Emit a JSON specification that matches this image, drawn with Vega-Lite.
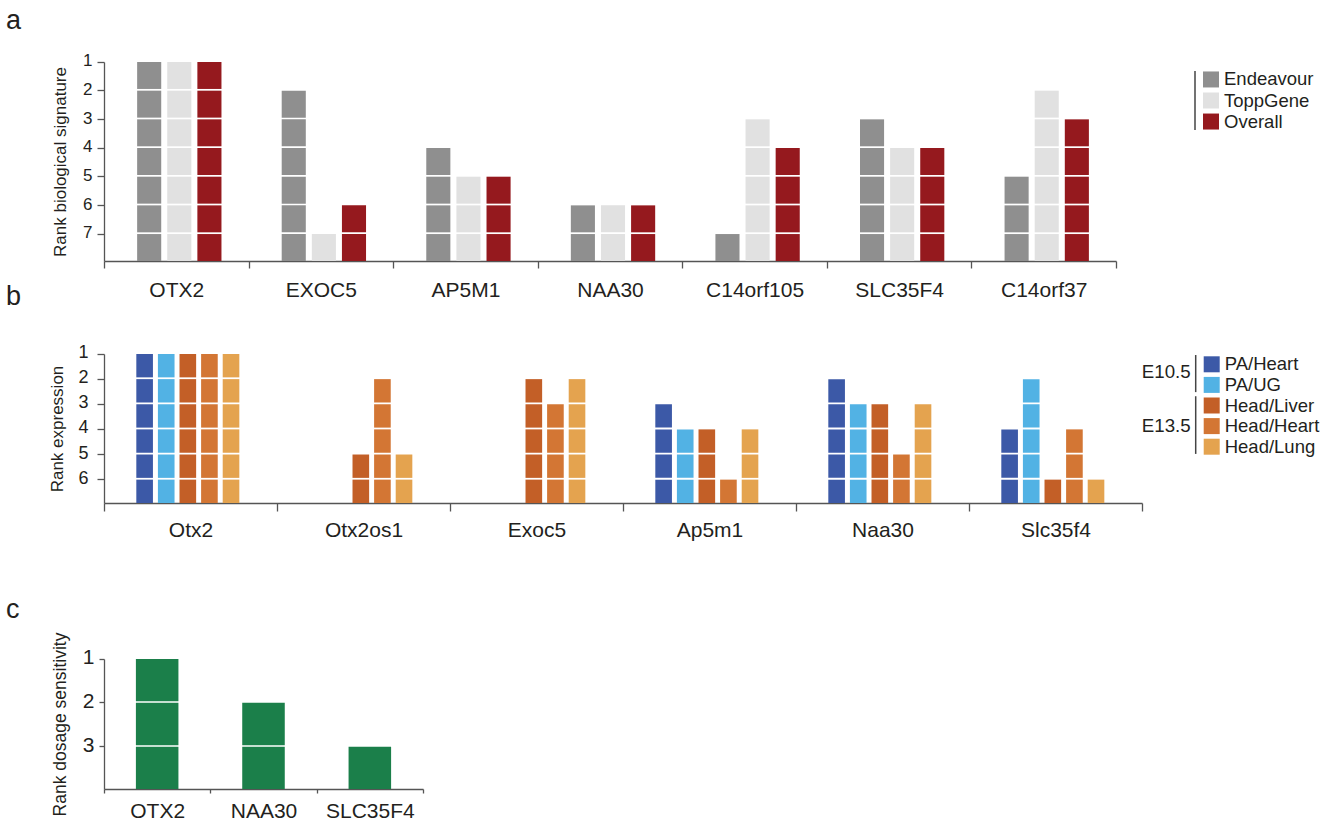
{
  "$schema": "https://vega.github.io/schema/vega-lite/v6.json",
  "padding": {"left": 6, "top": 6, "right": 2, "bottom": 2},
  "config": {
    "view": {"stroke": null},
    "font": "Liberation Sans",
    "axis": {"domainColor": "#555555", "tickColor": "#555555", "labelColor": "#231f20", "titleColor": "#231f20", "domainWidth": 1.3, "tickWidth": 1.3, "grid": false, "titleFontWeight": "normal"},
    "title": {"anchor": "start", "frame": "group", "fontSize": 27, "fontWeight": "normal", "color": "#231f20", "dx": -98, "baseline": "alphabetic"}
  },
  "datasets": {
    "a": [
      {"g":"OTX2","s":"Endeavour","r":1},{"g":"OTX2","s":"Endeavour","r":2},{"g":"OTX2","s":"Endeavour","r":3},{"g":"OTX2","s":"Endeavour","r":4},{"g":"OTX2","s":"Endeavour","r":5},{"g":"OTX2","s":"Endeavour","r":6},{"g":"OTX2","s":"Endeavour","r":7},
      {"g":"OTX2","s":"ToppGene","r":1},{"g":"OTX2","s":"ToppGene","r":2},{"g":"OTX2","s":"ToppGene","r":3},{"g":"OTX2","s":"ToppGene","r":4},{"g":"OTX2","s":"ToppGene","r":5},{"g":"OTX2","s":"ToppGene","r":6},{"g":"OTX2","s":"ToppGene","r":7},
      {"g":"OTX2","s":"Overall","r":1},{"g":"OTX2","s":"Overall","r":2},{"g":"OTX2","s":"Overall","r":3},{"g":"OTX2","s":"Overall","r":4},{"g":"OTX2","s":"Overall","r":5},{"g":"OTX2","s":"Overall","r":6},{"g":"OTX2","s":"Overall","r":7},
      {"g":"EXOC5","s":"Endeavour","r":2},{"g":"EXOC5","s":"Endeavour","r":3},{"g":"EXOC5","s":"Endeavour","r":4},{"g":"EXOC5","s":"Endeavour","r":5},{"g":"EXOC5","s":"Endeavour","r":6},{"g":"EXOC5","s":"Endeavour","r":7},
      {"g":"EXOC5","s":"ToppGene","r":7},
      {"g":"EXOC5","s":"Overall","r":6},{"g":"EXOC5","s":"Overall","r":7},
      {"g":"AP5M1","s":"Endeavour","r":4},{"g":"AP5M1","s":"Endeavour","r":5},{"g":"AP5M1","s":"Endeavour","r":6},{"g":"AP5M1","s":"Endeavour","r":7},
      {"g":"AP5M1","s":"ToppGene","r":5},{"g":"AP5M1","s":"ToppGene","r":6},{"g":"AP5M1","s":"ToppGene","r":7},
      {"g":"AP5M1","s":"Overall","r":5},{"g":"AP5M1","s":"Overall","r":6},{"g":"AP5M1","s":"Overall","r":7},
      {"g":"NAA30","s":"Endeavour","r":6},{"g":"NAA30","s":"Endeavour","r":7},
      {"g":"NAA30","s":"ToppGene","r":6},{"g":"NAA30","s":"ToppGene","r":7},
      {"g":"NAA30","s":"Overall","r":6},{"g":"NAA30","s":"Overall","r":7},
      {"g":"C14orf105","s":"Endeavour","r":7},
      {"g":"C14orf105","s":"ToppGene","r":3},{"g":"C14orf105","s":"ToppGene","r":4},{"g":"C14orf105","s":"ToppGene","r":5},{"g":"C14orf105","s":"ToppGene","r":6},{"g":"C14orf105","s":"ToppGene","r":7},
      {"g":"C14orf105","s":"Overall","r":4},{"g":"C14orf105","s":"Overall","r":5},{"g":"C14orf105","s":"Overall","r":6},{"g":"C14orf105","s":"Overall","r":7},
      {"g":"SLC35F4","s":"Endeavour","r":3},{"g":"SLC35F4","s":"Endeavour","r":4},{"g":"SLC35F4","s":"Endeavour","r":5},{"g":"SLC35F4","s":"Endeavour","r":6},{"g":"SLC35F4","s":"Endeavour","r":7},
      {"g":"SLC35F4","s":"ToppGene","r":4},{"g":"SLC35F4","s":"ToppGene","r":5},{"g":"SLC35F4","s":"ToppGene","r":6},{"g":"SLC35F4","s":"ToppGene","r":7},
      {"g":"SLC35F4","s":"Overall","r":4},{"g":"SLC35F4","s":"Overall","r":5},{"g":"SLC35F4","s":"Overall","r":6},{"g":"SLC35F4","s":"Overall","r":7},
      {"g":"C14orf37","s":"Endeavour","r":5},{"g":"C14orf37","s":"Endeavour","r":6},{"g":"C14orf37","s":"Endeavour","r":7},
      {"g":"C14orf37","s":"ToppGene","r":2},{"g":"C14orf37","s":"ToppGene","r":3},{"g":"C14orf37","s":"ToppGene","r":4},{"g":"C14orf37","s":"ToppGene","r":5},{"g":"C14orf37","s":"ToppGene","r":6},{"g":"C14orf37","s":"ToppGene","r":7},
      {"g":"C14orf37","s":"Overall","r":3},{"g":"C14orf37","s":"Overall","r":4},{"g":"C14orf37","s":"Overall","r":5},{"g":"C14orf37","s":"Overall","r":6},{"g":"C14orf37","s":"Overall","r":7}
    ],
    "b": [
      {"g":"Otx2","s":"PA/Heart","r":1},{"g":"Otx2","s":"PA/Heart","r":2},{"g":"Otx2","s":"PA/Heart","r":3},{"g":"Otx2","s":"PA/Heart","r":4},{"g":"Otx2","s":"PA/Heart","r":5},{"g":"Otx2","s":"PA/Heart","r":6},
      {"g":"Otx2","s":"PA/UG","r":1},{"g":"Otx2","s":"PA/UG","r":2},{"g":"Otx2","s":"PA/UG","r":3},{"g":"Otx2","s":"PA/UG","r":4},{"g":"Otx2","s":"PA/UG","r":5},{"g":"Otx2","s":"PA/UG","r":6},
      {"g":"Otx2","s":"Head/Liver","r":1},{"g":"Otx2","s":"Head/Liver","r":2},{"g":"Otx2","s":"Head/Liver","r":3},{"g":"Otx2","s":"Head/Liver","r":4},{"g":"Otx2","s":"Head/Liver","r":5},{"g":"Otx2","s":"Head/Liver","r":6},
      {"g":"Otx2","s":"Head/Heart","r":1},{"g":"Otx2","s":"Head/Heart","r":2},{"g":"Otx2","s":"Head/Heart","r":3},{"g":"Otx2","s":"Head/Heart","r":4},{"g":"Otx2","s":"Head/Heart","r":5},{"g":"Otx2","s":"Head/Heart","r":6},
      {"g":"Otx2","s":"Head/Lung","r":1},{"g":"Otx2","s":"Head/Lung","r":2},{"g":"Otx2","s":"Head/Lung","r":3},{"g":"Otx2","s":"Head/Lung","r":4},{"g":"Otx2","s":"Head/Lung","r":5},{"g":"Otx2","s":"Head/Lung","r":6},
      {"g":"Otx2os1","s":"Head/Liver","r":5},{"g":"Otx2os1","s":"Head/Liver","r":6},
      {"g":"Otx2os1","s":"Head/Heart","r":2},{"g":"Otx2os1","s":"Head/Heart","r":3},{"g":"Otx2os1","s":"Head/Heart","r":4},{"g":"Otx2os1","s":"Head/Heart","r":5},{"g":"Otx2os1","s":"Head/Heart","r":6},
      {"g":"Otx2os1","s":"Head/Lung","r":5},{"g":"Otx2os1","s":"Head/Lung","r":6},
      {"g":"Exoc5","s":"Head/Liver","r":2},{"g":"Exoc5","s":"Head/Liver","r":3},{"g":"Exoc5","s":"Head/Liver","r":4},{"g":"Exoc5","s":"Head/Liver","r":5},{"g":"Exoc5","s":"Head/Liver","r":6},
      {"g":"Exoc5","s":"Head/Heart","r":3},{"g":"Exoc5","s":"Head/Heart","r":4},{"g":"Exoc5","s":"Head/Heart","r":5},{"g":"Exoc5","s":"Head/Heart","r":6},
      {"g":"Exoc5","s":"Head/Lung","r":2},{"g":"Exoc5","s":"Head/Lung","r":3},{"g":"Exoc5","s":"Head/Lung","r":4},{"g":"Exoc5","s":"Head/Lung","r":5},{"g":"Exoc5","s":"Head/Lung","r":6},
      {"g":"Ap5m1","s":"PA/Heart","r":3},{"g":"Ap5m1","s":"PA/Heart","r":4},{"g":"Ap5m1","s":"PA/Heart","r":5},{"g":"Ap5m1","s":"PA/Heart","r":6},
      {"g":"Ap5m1","s":"PA/UG","r":4},{"g":"Ap5m1","s":"PA/UG","r":5},{"g":"Ap5m1","s":"PA/UG","r":6},
      {"g":"Ap5m1","s":"Head/Liver","r":4},{"g":"Ap5m1","s":"Head/Liver","r":5},{"g":"Ap5m1","s":"Head/Liver","r":6},
      {"g":"Ap5m1","s":"Head/Heart","r":6},
      {"g":"Ap5m1","s":"Head/Lung","r":4},{"g":"Ap5m1","s":"Head/Lung","r":5},{"g":"Ap5m1","s":"Head/Lung","r":6},
      {"g":"Naa30","s":"PA/Heart","r":2},{"g":"Naa30","s":"PA/Heart","r":3},{"g":"Naa30","s":"PA/Heart","r":4},{"g":"Naa30","s":"PA/Heart","r":5},{"g":"Naa30","s":"PA/Heart","r":6},
      {"g":"Naa30","s":"PA/UG","r":3},{"g":"Naa30","s":"PA/UG","r":4},{"g":"Naa30","s":"PA/UG","r":5},{"g":"Naa30","s":"PA/UG","r":6},
      {"g":"Naa30","s":"Head/Liver","r":3},{"g":"Naa30","s":"Head/Liver","r":4},{"g":"Naa30","s":"Head/Liver","r":5},{"g":"Naa30","s":"Head/Liver","r":6},
      {"g":"Naa30","s":"Head/Heart","r":5},{"g":"Naa30","s":"Head/Heart","r":6},
      {"g":"Naa30","s":"Head/Lung","r":3},{"g":"Naa30","s":"Head/Lung","r":4},{"g":"Naa30","s":"Head/Lung","r":5},{"g":"Naa30","s":"Head/Lung","r":6},
      {"g":"Slc35f4","s":"PA/Heart","r":4},{"g":"Slc35f4","s":"PA/Heart","r":5},{"g":"Slc35f4","s":"PA/Heart","r":6},
      {"g":"Slc35f4","s":"PA/UG","r":2},{"g":"Slc35f4","s":"PA/UG","r":3},{"g":"Slc35f4","s":"PA/UG","r":4},{"g":"Slc35f4","s":"PA/UG","r":5},{"g":"Slc35f4","s":"PA/UG","r":6},
      {"g":"Slc35f4","s":"Head/Liver","r":6},
      {"g":"Slc35f4","s":"Head/Heart","r":4},{"g":"Slc35f4","s":"Head/Heart","r":5},{"g":"Slc35f4","s":"Head/Heart","r":6},
      {"g":"Slc35f4","s":"Head/Lung","r":6}
    ],
    "c": [
      {"g":"OTX2","r":1},{"g":"OTX2","r":2},{"g":"OTX2","r":3},
      {"g":"NAA30","r":2},{"g":"NAA30","r":3},
      {"g":"SLC35F4","r":3}
    ]
  },
  "bounds": "flush",
  "spacing": 597,
  "resolve": {"scale": {"color": "independent", "xOffset": "independent"}},
  "vconcat": [
    {
      "bounds": "flush",
      "spacing": 292,
      "resolve": {"scale": {"color": "independent", "xOffset": "independent"}},
      "vconcat": [
        {
          "title": {"text": "a", "offset": 17},
          "bounds": "flush",
          "spacing": 78.5,
          "hconcat": [
            {
              "width": 1012,
              "height": 199,
              "data": {"name": "a"},
              "mark": {"type": "bar"},
              "encoding": {
                "x": {"field": "g", "type": "nominal",
                      "scale": {"domain": ["OTX2","EXOC5","AP5M1","NAA30","C14orf105","SLC35F4","C14orf37"], "paddingInner": 0, "paddingOuter": 0},
                      "axis": {"title": null, "tickBand": "extent", "labelAngle": 0, "labelFontSize": 21, "tickSize": 7, "labelPadding": 11}},
                "xOffset": {"field": "s", "type": "nominal",
                            "scale": {"domain": ["Endeavour","ToppGene","Overall"], "paddingInner": 0.2, "paddingOuter": 1, "align": 0.55}},
                "y": {"field": "r", "type": "ordinal",
                      "scale": {"domain": [1,2,3,4,5,6,7], "paddingInner": 0.06, "paddingOuter": 0},
                      "axis": {"title": "Rank biological signature", "bandPosition": 0, "labelOffset": -14.3, "tickSize": 7, "labelPadding": 5, "labelFontSize": 17, "titleFontSize": 17, "titlePadding": 13}},
                "color": {"field": "s", "type": "nominal",
                          "scale": {"domain": ["Endeavour","ToppGene","Overall"], "range": ["#8f8f8f","#e1e1e1","#95191e"]},
                          "legend": null}
              }
            },
            {
              "width": 1,
              "height": 77,
              "data": {"values": [{"s":"Endeavour"},{"s":"ToppGene"},{"s":"Overall"}]},
              "layer": [
                {
                  "mark": {"type": "square", "size": 256, "opacity": 1, "xOffset": 16},
                  "encoding": {
                    "y": {"field": "s", "type": "nominal", "scale": {"domain": ["Endeavour","ToppGene","Overall"], "paddingInner": 0, "paddingOuter": 0.33}, "axis": null},
                    "color": {"field": "s", "type": "nominal",
                              "scale": {"domain": ["Endeavour","ToppGene","Overall"], "range": ["#8f8f8f","#e1e1e1","#95191e"]},
                              "legend": null}
                  }
                },
                {
                  "mark": {"type": "text", "align": "left", "baseline": "middle", "dx": 29, "fontSize": 18.5, "color": "#231f20"},
                  "encoding": {
                    "y": {"field": "s", "type": "nominal"},
                    "text": {"field": "s"}
                  }
                },
                {
                  "data": {"values": [{"top": "Endeavour", "bot": "Overall"}]},
                  "mark": {"type": "rule", "color": "#444444", "strokeWidth": 1.5},
                  "encoding": {
                    "y": {"field": "top", "type": "nominal", "bandPosition": 0.1},
                    "y2": {"field": "bot", "bandPosition": 0.9}
                  }
                }
              ]
            }
          ]
        },
        {
          "title": {"text": "b", "offset": 33},
          "bounds": "flush",
          "spacing": 53.2,
          "hconcat": [
            {
              "width": 1038,
              "height": 149,
              "data": {"name": "b"},
              "mark": {"type": "bar"},
              "encoding": {
                "x": {"field": "g", "type": "nominal",
                      "scale": {"domain": ["Otx2","Otx2os1","Exoc5","Ap5m1","Naa30","Slc35f4"], "paddingInner": 0, "paddingOuter": 0},
                      "axis": {"title": null, "tickBand": "extent", "labelAngle": 0, "labelFontSize": 21, "tickSize": 8, "labelPadding": 8}},
                "xOffset": {"field": "s", "type": "nominal",
                            "scale": {"domain": ["_l","PA/Heart","PA/UG","Head/Liver","Head/Heart","Head/Lung","_r"], "paddingInner": 0.23, "paddingOuter": 0.62, "align": 0.4}},
                "y": {"field": "r", "type": "ordinal",
                      "scale": {"domain": [1,2,3,4,5,6], "paddingInner": 0.07, "paddingOuter": 0},
                      "axis": {"title": "Rank expression", "bandPosition": 0, "labelOffset": -12.6, "tickSize": 7, "labelPadding": 9, "labelFontSize": 18, "titleFontSize": 17, "titlePadding": 11}},
                "color": {"field": "s", "type": "nominal",
                          "scale": {"domain": ["PA/Heart","PA/UG","Head/Liver","Head/Heart","Head/Lung"], "range": ["#3c59a7","#52b2e4","#c35f27","#d37634","#e4a34f"]},
                          "legend": null}
              }
            },
            {
              "width": 1,
              "height": 103,
              "data": {"values": [{"s":"PA/Heart"},{"s":"PA/UG"},{"s":"Head/Liver"},{"s":"Head/Heart"},{"s":"Head/Lung"}]},
              "layer": [
                {
                  "mark": {"type": "square", "size": 256, "opacity": 1, "xOffset": 16},
                  "encoding": {
                    "y": {"field": "s", "type": "nominal", "scale": {"domain": ["PA/Heart","PA/UG","Head/Liver","Head/Heart","Head/Lung"], "paddingInner": 0, "paddingOuter": 0}, "axis": null},
                    "color": {"field": "s", "type": "nominal",
                              "scale": {"domain": ["PA/Heart","PA/UG","Head/Liver","Head/Heart","Head/Lung"], "range": ["#3c59a7","#52b2e4","#c35f27","#d37634","#e4a34f"]},
                              "legend": null}
                  }
                },
                {
                  "mark": {"type": "text", "align": "left", "baseline": "middle", "dx": 29, "fontSize": 18.5, "color": "#231f20"},
                  "encoding": {
                    "y": {"field": "s", "type": "nominal"},
                    "text": {"field": "s"}
                  }
                },
                {
                  "data": {"values": [{"st": "E10.5", "top": "PA/Heart", "bot": "PA/UG"}, {"st": "E13.5", "top": "Head/Liver", "bot": "Head/Lung"}]},
                  "mark": {"type": "rule", "color": "#444444", "strokeWidth": 1.5},
                  "encoding": {
                    "y": {"field": "top", "type": "nominal", "bandPosition": 0.05},
                    "y2": {"field": "bot", "bandPosition": 0.85}
                  }
                },
                {
                  "data": {"values": [{"st": "E10.5", "at": "PA/Heart"}]},
                  "mark": {"type": "text", "align": "right", "baseline": "middle", "dx": -5, "fontSize": 18.7, "color": "#231f20"},
                  "encoding": {
                    "y": {"field": "at", "type": "nominal", "bandPosition": 0.85},
                    "text": {"field": "st"}
                  }
                },
                {
                  "data": {"values": [{"st": "E13.5", "at": "Head/Heart"}]},
                  "mark": {"type": "text", "align": "right", "baseline": "middle", "dx": -5, "fontSize": 18.7, "color": "#231f20"},
                  "encoding": {
                    "y": {"field": "at", "type": "nominal", "bandPosition": 0.5},
                    "text": {"field": "st"}
                  }
                }
              ]
            }
          ]
        }
      ]
    },
    {
      "title": {"text": "c", "offset": 8},
      "width": 319,
      "height": 130,
      "data": {"name": "c"},
      "mark": {"type": "bar", "width": {"band": 0.4}, "color": "#1b7f4a"},
      "encoding": {
        "x": {"field": "g", "type": "nominal",
              "scale": {"domain": ["OTX2","NAA30","SLC35F4"], "paddingInner": 0, "paddingOuter": 0},
              "axis": {"title": null, "tickBand": "extent", "labelAngle": 0, "labelFontSize": 21, "tickSize": 4, "labelPadding": 7}},
        "y": {"field": "r", "type": "ordinal",
              "scale": {"domain": [1,2,3], "paddingInner": 0.035, "paddingOuter": 0},
              "axis": {"title": "Rank dosage sensitivity", "bandPosition": 0, "labelOffset": -21.9, "tickSize": 5, "labelPadding": 5, "labelFontSize": 21, "titleFontSize": 17.5, "titlePadding": 13}}
      }
    }
  ]
}
